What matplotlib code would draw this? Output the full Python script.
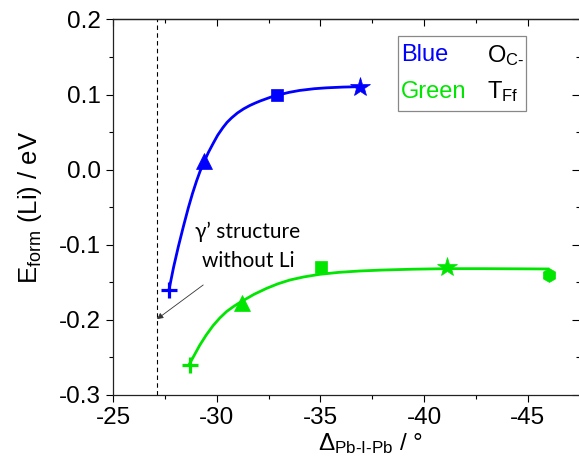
import matplotlib
matplotlib.use('Agg')
from matplotlib import pyplot as plt
from matplotlib.patches import Rectangle
from matplotlib.ticker import MultipleLocator, FormatStrFormatter

plt.rcParams['font.family'] = ['Liberation Sans', 'DejaVu Sans']
plt.rcParams['mathtext.fontset'] = 'custom'
plt.rcParams['mathtext.rm'] = 'Liberation Sans'
plt.rcParams['mathtext.it'] = 'Liberation Sans:italic'
plt.rcParams['axes.unicode_minus'] = False

BLUE = '#0000ff'
GREEN = '#00e600'

# marker points (Delta angle in degrees, formation energy in eV)
blue_x = [-27.7, -29.4, -32.9, -36.9]
blue_y = [-0.160, 0.011, 0.100, 0.110]
green_x = [-28.7, -31.2, -35.05, -41.1, -46.05]
green_y = [-0.260, -0.178, -0.130, -0.130, -0.140]
blue_markers = ['+', '^', 's', '*']
green_markers = ['+', '^', 's', '*', 'h']

# fitted curves
blue_fit_x = [-27.7, -27.92, -28.15, -28.4, -28.63, -28.83, -29.03, -29.2,
              -29.4, -29.6, -29.83, -30.05, -30.3, -30.5, -30.72, -31.0,
              -31.3, -31.6, -31.84, -32.1, -32.4, -32.65, -32.9, -33.2,
              -33.5, -34.0, -34.7, -35.3, -36.1, -36.9]
blue_fit_y = [-0.160, -0.130, -0.1025, -0.075, -0.051, -0.032, -0.015,
              -0.002, 0.011, 0.023, 0.035, 0.046, 0.056, 0.063, 0.069,
              0.0755, 0.081, 0.0855, 0.0885, 0.0915, 0.0945, 0.097, 0.099,
              0.101, 0.103, 0.1055, 0.1078, 0.109, 0.110, 0.1105]
green_fit_x = [-28.68, -28.9, -29.19, -29.5, -29.83, -30.15, -30.48, -30.85,
               -31.2, -31.8, -32.41, -32.95, -33.53, -34.2, -34.98, -35.9,
               -36.9, -38.03, -39.5, -41.08, -42.85, -44.5, -45.98]
green_fit_y = [-0.259, -0.248, -0.2334, -0.220, -0.2075, -0.1975, -0.1888,
               -0.1815, -0.1755, -0.166, -0.158, -0.152, -0.1469, -0.1428,
               -0.1393, -0.1367, -0.1349, -0.1336, -0.1325, -0.1318,
               -0.1318, -0.132, -0.1322]

ref_x = -27.12  # gamma' structure without Li

fig = plt.figure(figsize=(5.79, 4.66), dpi=100)
ax = fig.add_axes([0.1952, 0.1524, 0.8057, 0.8058])

ax.plot(blue_fit_x, blue_fit_y, color=BLUE, lw=2.0, zorder=2)
ax.plot(green_fit_x, green_fit_y, color=GREEN, lw=2.0, zorder=2)

sizes = {'+': 12, '^': 12, 's': 8, '*': 15, 'h': 10}
for x, y, m in zip(blue_x, blue_y, blue_markers):
    ax.plot(x, y, marker=m, ms=sizes[m], color=BLUE,
            mew=2.3 if m == '+' else 0.5, ls='none', zorder=3)
for x, y, m in zip(green_x, green_y, green_markers):
    ax.plot(x, y, marker=m, ms=sizes[m], color=GREEN,
            mew=2.3 if m == '+' else 0.5, ls='none', zorder=3)

ax.axvline(ref_x, color='black', lw=0.8, ls=(0, (4, 3)), zorder=1)
ax.annotate('', xy=(ref_x, -0.199), xytext=(-29.35, -0.1535),
            arrowprops=dict(arrowstyle='-|>', color='#333333', lw=0.6,
                            mutation_scale=9, shrinkA=0, shrinkB=0))
ax.text(-31.5, -0.102, 'γ’ structure\nwithout Li', ha='center', va='center',
        fontsize=15, family=['Lato', 'DejaVu Sans'], linespacing=1.6)

# legend box
ax.add_patch(Rectangle((0.6115, 0.755), 0.274, 0.2, transform=ax.transAxes,
                       fill=False, edgecolor='#888888', lw=0.9, zorder=4))
ax.text(0.617, 0.905, 'Blue', color=BLUE, fontsize=17, transform=ax.transAxes,
        va='center')
ax.text(0.617, 0.808, 'Green', color=GREEN, fontsize=17,
        transform=ax.transAxes, va='center')
ax.text(0.801, 0.905, r'O$_\mathregular{C\text{-}}$', fontsize=17,
        transform=ax.transAxes, va='center')
ax.text(0.801, 0.808, r'T$_\mathregular{Ff}$', fontsize=17,
        transform=ax.transAxes, va='center')

ax.set_xlim(-25, -47.5)
ax.set_ylim(-0.3, 0.2)
ax.xaxis.set_major_locator(MultipleLocator(5))
ax.xaxis.set_minor_locator(MultipleLocator(2.5))
ax.yaxis.set_major_locator(MultipleLocator(0.1))
ax.yaxis.set_minor_locator(MultipleLocator(0.05))
ax.yaxis.set_major_formatter(FormatStrFormatter('%.1f'))

ax.tick_params(which='both', direction='out', labelsize=17.5, width=0.8,
               top=False, right=False)
ax.tick_params(which='major', length=5)
ax.tick_params(which='minor', length=3)
sec = ax.secondary_xaxis('top')
sec.set_xticks([-25, -30, -35, -40, -45])
sec.xaxis.set_minor_locator(MultipleLocator(2.5))
sec.tick_params(which='both', direction='in', labeltop=False, width=0.8)
sec.tick_params(which='major', length=5)
sec.tick_params(which='minor', length=3)
sec2 = ax.secondary_yaxis('right')
sec2.yaxis.set_major_locator(MultipleLocator(0.1))
sec2.yaxis.set_minor_locator(MultipleLocator(0.05))
sec2.tick_params(which='both', direction='in', labelright=False, width=0.8)
sec2.tick_params(which='major', length=6)
sec2.tick_params(which='minor', length=3)
for s in list(ax.spines.values()) + [sec.spines['top'], sec2.spines['right']]:
    s.set_linewidth(0.9)
    s.set_color('#222222')

ax.set_xlabel(r'$\Delta_\mathregular{Pb\text{-}I\text{-}Pb}$ / °', fontsize=17.5)
ax.xaxis.set_label_coords(0.551, -0.097)
ax.set_ylabel(r'E$_\mathregular{form}$ (Li) / eV', fontsize=18.5, labelpad=11)

fig.savefig('out.png', dpi=100)
